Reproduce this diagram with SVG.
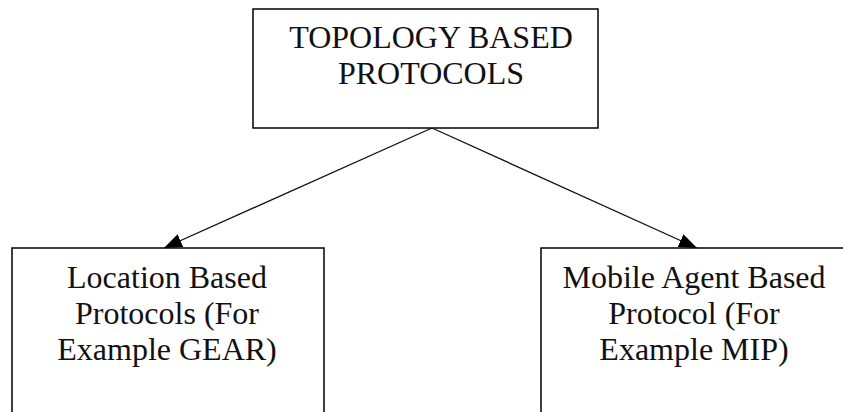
<svg xmlns="http://www.w3.org/2000/svg" width="843" height="412" viewBox="0 0 843 412">
  <style>
    .box { fill: #ffffff; stroke: #000000; stroke-width: 1.5; }
    .label { font-family: "Liberation Serif", "Times New Roman", serif; font-size: 32px; fill: #111111; text-anchor: middle; }
    .edge { stroke: #111111; stroke-width: 1.3; fill: none; }
  </style>
  <defs>
    <!-- filled triangular arrowhead, tip on the line end -->
    <marker id="arrow" viewBox="0 0 18 14" refX="18" refY="7" markerWidth="18" markerHeight="14" markerUnits="userSpaceOnUse" orient="auto">
      <path d="M0,0 L18,7 L0,14 Z" fill="#000000"/>
    </marker>
  </defs>
  <rect width="843" height="412" fill="#ffffff"/>

  <g id="topology">
    <rect class="box" x="253" y="9" width="345" height="119"/>
    <text class="label" x="431" y="48">TOPOLOGY BASED</text>
    <text class="label" x="431" y="84">PROTOCOLS</text>
  </g>

  <g id="location">
    <rect class="box" x="12" y="248" width="312" height="180"/>
    <text class="label" x="167" y="288">Location Based</text>
    <text class="label" x="167" y="324">Protocols (For</text>
    <text class="label" x="167" y="360">Example GEAR)</text>
  </g>

  <g id="mobile-agent">
    <rect class="box" x="541" y="248" width="320" height="180"/>
    <text class="label" x="694" y="288">Mobile Agent Based</text>
    <text class="label" x="694" y="324">Protocol (For</text>
    <text class="label" x="694" y="360">Example MIP)</text>
  </g>

  <g id="connectors">
    <line class="edge" x1="432" y1="128" x2="164" y2="248" marker-end="url(#arrow)"/>
    <line class="edge" x1="432" y1="128" x2="697" y2="248" marker-end="url(#arrow)"/>
  </g>
</svg>
